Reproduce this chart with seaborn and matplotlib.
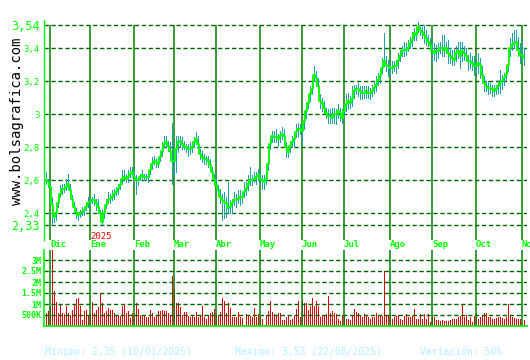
import numpy as np
import pandas as pd
import matplotlib
matplotlib.use("Agg")
import matplotlib.pyplot as plt
import matplotlib.transforms as mtransforms
import seaborn as sns

# ---------------- data ----------------
close = [
    2.60, 2.59, 2.56, 2.45, 2.38, 2.40, 2.46, 2.52, 2.55, 2.55,
    2.56, 2.58, 2.54, 2.49, 2.44, 2.41, 2.39, 2.40, 2.41, 2.42,
    2.44, 2.46, 2.47, 2.48, 2.48, 2.46, 2.44, 2.40, 2.35, 2.40,
    2.45, 2.48, 2.49, 2.50, 2.52, 2.53, 2.55, 2.57, 2.61, 2.62, 2.61,
    2.62, 2.64, 2.65, 2.62, 2.60, 2.60, 2.62, 2.63, 2.62, 2.62,
    2.62, 2.66, 2.70, 2.72, 2.71, 2.70, 2.74, 2.78, 2.82, 2.83,
    2.81, 2.78, 2.72, 2.72, 2.79, 2.83, 2.84, 2.82, 2.81, 2.80,
    2.79, 2.79, 2.80, 2.83, 2.85, 2.82, 2.76, 2.74, 2.73, 2.73,
    2.72, 2.69, 2.65, 2.61, 2.57, 2.54, 2.50, 2.48, 2.47, 2.46,
    2.43, 2.44, 2.46, 2.48, 2.48, 2.49, 2.50, 2.50, 2.53, 2.55,
    2.58, 2.60, 2.60, 2.61, 2.62, 2.63, 2.61, 2.60, 2.59, 2.61,
    2.70, 2.82, 2.87, 2.86, 2.86, 2.85, 2.87, 2.88, 2.87, 2.80,
    2.77, 2.81, 2.83, 2.85, 2.89, 2.91, 2.91, 2.90, 2.96, 3.02,
    3.07, 3.12, 3.15, 3.24, 3.22, 3.17, 3.08, 3.07, 3.04, 3.01,
    2.99, 2.99, 2.98, 3.00, 3.00, 3.02, 3.01, 2.98, 3.02, 3.06, 3.08,
    3.07, 3.09, 3.14, 3.15, 3.15, 3.14, 3.13, 3.13, 3.14, 3.13,
    3.13, 3.14, 3.16, 3.18, 3.21, 3.23, 3.28, 3.32, 3.30, 3.29,
    3.28, 3.28, 3.29, 3.29, 3.32, 3.35, 3.38, 3.39, 3.39, 3.40,
    3.43, 3.45, 3.49, 3.48, 3.53, 3.51, 3.50, 3.48, 3.46, 3.44,
    3.42, 3.38, 3.37, 3.38, 3.38, 3.40, 3.40, 3.39, 3.40, 3.37,
    3.35, 3.34, 3.33, 3.37, 3.38, 3.35, 3.38, 3.37, 3.35, 3.32, 3.32,
    3.31, 3.29, 3.29, 3.31, 3.30, 3.24, 3.19, 3.17, 3.16, 3.16,
    3.15, 3.14, 3.15, 3.17, 3.19, 3.20, 3.22, 3.24, 3.30, 3.40, 3.42,
    3.43, 3.44, 3.39, 3.36, 3.36, 3.34,
]

# wick above / below the close, in cents
wick_up_cents = [
    5, 2, 3, 5, 2, 3, 4, 5, 3, 3,
    5, 6, 4, 2, 3, 2, 2, 2, 3, 2,
    3, 4, 3, 2, 4, 3, 5, 2, 7, 3,
    4, 5, 3, 4, 3, 3, 3, 4, 5, 4, 3,
    4, 4, 3, 3, 3, 2, 2, 3, 2, 2,
    2, 3, 4, 3, 2, 3, 4, 5, 5, 4,
    3, 5, 23, 6, 8, 4, 3, 4, 3, 2,
    3, 4, 3, 3, 4, 5, 3, 4, 3, 2,
    3, 4, 3, 3, 4, 3, 5, 4, 6, 4,
    16, 4, 3, 5, 4, 5, 4, 3, 6, 4,
    5, 8, 3, 4, 3, 4, 5, 3, 4, 6,
    5, 4, 3, 4, 5, 3, 3, 4, 4, 3,
    4, 3, 4, 3, 5, 4, 3, 4, 6, 5,
    4, 5, 6, 5, 4, 5, 4, 3, 4, 3,
    4, 4, 6, 4, 3, 4, 3, 5, 4, 6, 5,
    4, 8, 4, 3, 4, 3, 4, 4, 3, 4,
    3, 4, 4, 5, 4, 5, 6, 17, 5, 4,
    3, 4, 3, 4, 5, 4, 3, 5, 4, 5,
    4, 5, 3, 4, 3, 2, 3, 6, 5, 4,
    4, 5, 6, 4, 5, 4, 8, 9, 4, 8,
    5, 5, 6, 4, 6, 9, 6, 4, 5, 4, 5,
    4, 6, 5, 6, 4, 5, 4, 3, 4, 3,
    3, 4, 3, 4, 8, 4, 3, 4, 5, 6, 7,
    8, 7, 8, 7, 8, 6,
]
wick_down_cents = [
    2, 3, 4, 12, 3, 4, 2, 2, 3, 2,
    2, 3, 3, 3, 4, 4, 3, 2, 2, 3,
    2, 2, 2, 2, 3, 4, 4, 3, 2, 3,
    2, 2, 3, 2, 3, 2, 3, 2, 3, 2, 2,
    3, 2, 2, 3, 8, 3, 2, 2, 2, 2,
    3, 2, 3, 2, 3, 2, 2, 3, 2, 3,
    3, 4, 14, 8, 14, 6, 3, 3, 2, 3,
    4, 3, 3, 2, 3, 4, 3, 3, 3, 3,
    4, 3, 3, 4, 4, 3, 4, 12, 10, 8,
    3, 4, 6, 3, 4, 3, 5, 4, 3, 4,
    4, 3, 3, 2, 4, 3, 3, 5, 4, 3,
    4, 3, 4, 3, 3, 4, 4, 3, 4, 6,
    3, 4, 3, 4, 3, 4, 3, 8, 5, 4,
    3, 4, 3, 4, 5, 3, 4, 5, 4, 3,
    4, 4, 3, 5, 6, 4, 5, 3, 3, 4, 5,
    3, 4, 4, 3, 4, 5, 4, 3, 4, 3,
    4, 3, 3, 4, 3, 4, 3, 3, 4, 6,
    4, 3, 3, 4, 4, 3, 3, 4, 3, 2,
    3, 4, 4, 3, 3, 3, 4, 5, 4, 3,
    3, 6, 4, 6, 4, 3, 5, 4, 3, 6,
    4, 4, 3, 5, 4, 7, 6, 4, 3, 5, 4,
    4, 5, 3, 6, 8, 4, 5, 3, 4, 3,
    4, 3, 3, 4, 6, 5, 4, 3, 4, 5, 3,
    3, 4, 4, 5, 3, 4,
]

# volume in millions of shares
volume_m = [
    0.60, 0.68, 0.88, 3.50, 1.59, 1.08, 0.60, 0.95, 0.60, 0.55,
    0.91, 0.60, 0.50, 0.73, 0.95, 1.21, 1.26, 0.91, 0.27, 0.68,
    0.73, 0.50, 0.55, 1.08, 0.60, 0.73, 0.88, 1.48, 1.03, 0.60,
    0.68, 0.80, 0.73, 0.73, 0.60, 0.45, 0.50, 0.45, 0.91, 0.95, 0.60,
    0.68, 0.35, 0.60, 0.50, 1.03, 0.77, 0.50, 0.50, 0.50, 0.39,
    0.39, 0.73, 0.60, 0.39, 0.50, 0.68, 0.68, 0.73, 0.68, 0.68,
    0.60, 0.45, 2.27, 1.67, 1.06, 1.06, 0.88, 0.50, 0.65, 0.65,
    0.45, 0.42, 0.50, 0.39, 0.65, 0.42, 0.45, 0.92, 0.42, 0.30,
    0.50, 0.58, 0.65, 0.77, 0.50, 0.45, 0.65, 1.29, 1.14, 0.61,
    1.06, 0.80, 0.39, 0.39, 0.39, 0.65, 0.39, 0.35, 0.05, 0.55,
    0.45, 0.45, 0.42, 0.80, 0.39, 0.55, 0.39, 0.32, 0.05, 0.50,
    0.68, 1.14, 0.65, 0.55, 0.45, 0.61, 0.61, 0.27, 0.27, 0.39,
    0.45, 0.27, 0.32, 0.45, 0.77, 1.14, 0.42, 1.18, 1.03, 1.03,
    0.73, 0.91, 1.26, 0.91, 1.14, 0.91, 0.39, 0.45, 0.50, 0.55,
    1.36, 0.60, 0.68, 0.61, 0.55, 0.32, 0.24, 0.50, 0.50, 0.32, 0.32,
    0.27, 0.45, 0.77, 0.65, 0.58, 0.50, 0.42, 0.55, 0.50, 0.39,
    0.32, 0.39, 0.42, 0.61, 0.50, 0.50, 0.45, 2.50, 0.45, 0.50,
    0.55, 0.32, 0.39, 0.45, 0.50, 0.32, 0.27, 0.45, 0.55, 0.42,
    0.39, 0.45, 0.77, 0.32, 0.32, 0.55, 0.32, 0.55, 0.32, 0.55,
    0.20, 0.45, 0.39, 0.27, 0.27, 0.24, 0.27, 0.24, 0.24, 0.24,
    0.27, 0.30, 0.32, 0.32, 0.39, 0.45, 0.95, 0.39, 0.50, 0.27, 0.39,
    0.20, 0.45, 0.55, 0.32, 0.42, 0.50, 0.61, 0.61, 0.39, 0.39,
    0.32, 0.32, 0.35, 0.40, 0.39, 0.35, 0.32, 0.39, 1.00, 0.45, 0.39,
    0.35, 0.32, 0.32, 0.32, 0.05, 0.27,
]

month_labels = ["Dic", "Ene", "Feb", "Mar", "Abr", "May", "Jun", "Jul", "Ago", "Sep", "Oct", "Nov"]
month_start_day = [2, 22, 44, 64, 85, 107, 128, 149, 172, 193, 215, 238]
year_label = "2025"
year_month = "Ene"

price_ticks = [2.33, 2.4, 2.6, 2.8, 3.0, 3.2, 3.4, 3.54]
price_tick_labels = ["2,33", "2,4", "2,6", "2,8", "3", "3,2", "3,4", "3,54"]
vol_ticks = [0.5, 1.0, 1.5, 2.0, 2.5, 3.0]
vol_tick_labels = ["500K", "1M", "1.5M", "2M", "2.5M", "3M"]

stats_texts = ["Minimo: 2,35 (10/01/2025)", "Maximo: 3,53 (22/08/2025)", "Variación: 50%"]
site_text = "www.bolsagrafica.com"

# ---------------- frame ----------------
n = min(len(close), len(wick_up_cents), len(wick_down_cents), len(volume_m))
df = pd.DataFrame({"day": np.arange(n), "close": close[:n],
                   "up": wick_up_cents[:n], "down": wick_down_cents[:n],
                   "vol": volume_m[:n]})
df["high"] = df["close"] + df["up"] / 100.0
df["low"] = df["close"] - df["down"] / 100.0

sns.set_style("white")
plt.rcParams["font.family"] = ["DejaVu Sans Mono", "DejaVu Sans"]

W, H = 530, 360
fig = plt.figure(figsize=(W / 100, H / 100), dpi=100)
fig.patch.set_facecolor("white")


def rect(x0, y0, x1, y1):
    return [x0 / W, 1 - y1 / H, (x1 - x0) / W, (y1 - y0) / H]


LIME = "#00ff00"
GRID = "#006400"
MONTH = "#008000"
TEAL = "#1aa3a8"
RED = "#e00000"
MONO = "DejaVu Sans Mono"

ax = fig.add_axes(rect(44, 20, 527, 240))
axv = fig.add_axes(rect(44, 250, 527, 326))

xlim = (-0.75, -0.75 + 483 / 2)   # two pixels per trading day
p_top, p_bot = 3.54 + 5 / 165, 2.33 - 15 / 165

# ---- price panel ----
ax.set_xlim(*xlim)
ax.set_ylim(p_bot, p_top)
ax.hlines(price_ticks, xlim[0], xlim[1], colors=GRID, linestyles=(0, (3.1, 1.9)), lw=1.0, zorder=1)
ax.vlines(month_start_day, p_bot, 3.54, colors=MONTH, lw=1.1, zorder=1)
ax.vlines(df["day"], df["low"], df["high"], colors=TEAL, lw=0.5,
          antialiased=False, zorder=2)
sns.lineplot(data=df, x="day", y="close", ax=ax, color=LIME, lw=1.3,
             drawstyle="steps-mid", zorder=3)
ax.set_xlabel("")
ax.set_ylabel("")
ax.set_xticks([])
ax.set_yticks(price_ticks)
ax.set_yticklabels(price_tick_labels)
for lab, val in zip(ax.get_yticklabels(), price_ticks):
    lab.set_color(LIME)
    lab.set_family(MONO)
    lab.set_fontsize(8.5 if val in (2.33, 3.54) else 6.5)
ax.tick_params(axis="y", length=0, pad=3)
for s in ["top", "right", "bottom"]:
    ax.spines[s].set_visible(False)
ax.spines["left"].set_color(LIME)
ax.spines["left"].set_linewidth(1.0)
ax.set_facecolor("white")

trans = mtransforms.blended_transform_factory(ax.transData, ax.transAxes)
for lab, pos in zip(month_labels, month_start_day):
    ax.text(pos + 0.2, -0.02, lab, transform=trans, ha="left", va="center",
            color=LIME, fontsize=6.5, fontweight="bold", family=MONO, clip_on=False)
ax.text(month_start_day[month_labels.index(year_month)] + 0.2, 0.016, year_label,
        transform=trans, ha="left", va="center", color="#ff0000", fontsize=6.5,
        family=MONO, clip_on=False)

# ---- volume panel ----
v_top = 76 / 22
axv.set_xlim(*xlim)
axv.set_ylim(0, v_top)
axv.vlines(df["day"], 0, df["vol"], colors=RED, lw=0.5, antialiased=False, zorder=2)
axv.hlines(vol_ticks, xlim[0], xlim[1], colors=GRID, linestyles=(0, (3.1, 1.9)), lw=1.0, zorder=3)
axv.vlines(month_start_day, 0, v_top, colors=MONTH, lw=1.1, zorder=3)
axv.set_xticks([])
axv.set_yticks(vol_ticks)
axv.set_yticklabels(vol_tick_labels)
for lab in axv.get_yticklabels():
    lab.set_color(LIME)
    lab.set_family(MONO)
    lab.set_fontsize(6)
    lab.set_fontweight("bold")
axv.tick_params(axis="y", length=0, pad=2)
for s in ["top", "right"]:
    axv.spines[s].set_visible(False)
for s in ["left", "bottom"]:
    axv.spines[s].set_color(LIME)
    axv.spines[s].set_linewidth(1.2)
axv.spines["left"].set_zorder(4)
axv.spines["bottom"].set_zorder(4)
axv.set_facecolor("white")

# ---- texts ----
fig.text(17 / W, 1 - 121 / H, site_text, rotation=90, ha="center", va="center",
         fontsize=10, family=MONO, color="black")
for txt, x0 in zip(stats_texts, [45, 235, 420]):
    fig.text(x0 / W, 1 - 352 / H, txt, ha="left", va="center", fontsize=7,
             family=MONO, color="#b4f0ff")

fig.savefig("out.png", dpi=100, facecolor="white")
